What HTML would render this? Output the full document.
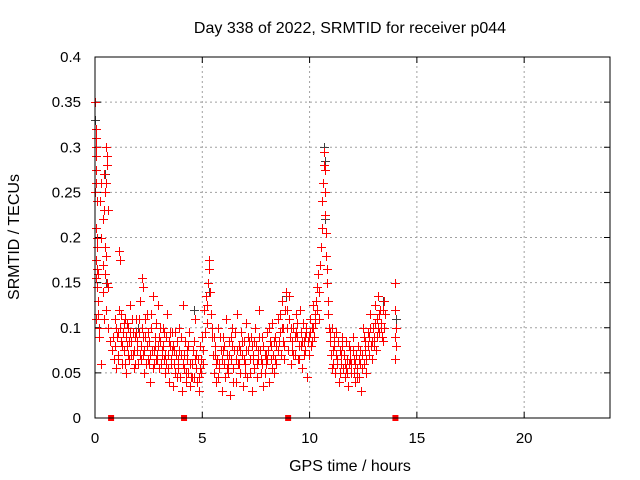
<!DOCTYPE html>
<html><head><meta charset="utf-8"><style>
html,body{margin:0;padding:0;background:#fff;}
svg{display:block;font-family:"Liberation Sans",sans-serif;}
</style></head><body>
<svg id="chart" width="640" height="480">
<rect x="0" y="0" width="640" height="480" fill="#fff"/>
<text x="350" y="33" font-size="16" text-anchor="middle">Day 338 of 2022, SRMTID for receiver p044</text>
<text x="350" y="471" font-size="16" text-anchor="middle">GPS time / hours</text>
<text x="19" y="237" font-size="16" text-anchor="middle" transform="rotate(-90 19 237)">SRMTID / TECUs</text>
<g id="grid"></g>
<g id="axes"></g>
<g id="gray"></g>
<g id="red"></g>
<g id="gaps"></g>
<rect x="95" y="57" width="515" height="361" fill="none" stroke="#000" stroke-width="1"/>
</svg>
<script>
const xTicks = [0,5,10,15,20];
const yTicks = [0,0.05,0.1,0.15,0.2,0.25,0.3,0.35,0.4];
const yTickLabels = ["0","0.05","0.1","0.15","0.2","0.25","0.3","0.35","0.4"];
const gapTimes = [0.75,4.15,9.0,14.0];
const grayPoints = [[0.02,0.33],[0.04,0.3],[0.45,0.27],[0.5,0.15],[2.0,0.1],[4.6,0.12],[5.3,0.14],[8.9,0.135],[10.68,0.3],[10.7,0.285],[10.72,0.22],[13.4,0.13],[14.02,0.11]];
const redPoints = [
[0.02,0.35],[0.03,0.32],[0.04,0.31],[0.05,0.30],[0.03,0.29],[0.06,0.275],[0.04,0.26],[0.02,0.25],[0.07,0.24],[0.05,0.21],[0.08,0.20],[0.1,0.19],[0.06,0.175],[0.09,0.165],[0.12,0.16],[0.05,0.155],[0.1,0.145],[0.14,0.13],[0.03,0.11],[0.16,0.115],[0.2,0.1],[0.18,0.09],
[0.25,0.24],[0.3,0.26],[0.35,0.22],[0.28,0.2],[0.4,0.23],[0.45,0.25],[0.5,0.26],[0.42,0.27],[0.55,0.29],[0.5,0.3],[0.55,0.28],[0.6,0.23],[0.48,0.19],[0.52,0.18],[0.38,0.17],[0.45,0.16],[0.55,0.15],[0.6,0.145],[0.35,0.14],[0.5,0.12],[0.4,0.11],[0.62,0.1],[0.7,0.085],[0.3,0.06],
[0.8,0.075],[0.85,0.09],[0.9,0.065],[0.95,0.08],[1.0,0.1],[1.05,0.07],[1.1,0.12],[1.12,0.185],[1.15,0.175],[1.2,0.085],[1.25,0.06],[1.3,0.095],[1.35,0.075],[1.4,0.11],[1.45,0.05],[1.5,0.08],[1.55,0.1],[1.6,0.065],[1.65,0.125],[1.7,0.085],[1.75,0.07],[1.8,0.055],[1.85,0.09],[1.9,0.11],[1.95,0.075],[2.0,0.06],[2.05,0.095],[2.1,0.13],[2.15,0.08],[2.2,0.155],[2.22,0.145],[2.25,0.07],[2.3,0.05],[2.35,0.09],[2.4,0.115],[2.45,0.065],[2.5,0.085],[2.55,0.04],[2.6,0.1],[2.65,0.075],[2.7,0.135],[2.75,0.06],[2.8,0.09],[2.85,0.105],[2.9,0.07],[2.95,0.125],[3.0,0.055],[3.05,0.085],[3.1,0.075],[3.15,0.1],[3.2,0.065],[3.25,0.05],[3.3,0.09],[3.35,0.115],[3.4,0.07],[3.45,0.04],[3.5,0.08],[3.55,0.06],[3.6,0.095],[3.65,0.035],[3.7,0.075],[3.75,0.05],[3.8,0.085],[3.85,0.065],[3.9,0.1],[3.95,0.045],
[4.0,0.07],[4.05,0.03],[4.1,0.125],[4.15,0.055],[4.2,0.085],[4.25,0.04],[4.3,0.065],[4.35,0.05],[4.4,0.095],[4.45,0.035],[4.5,0.06],[4.55,0.075],[4.6,0.045],[4.65,0.11],[4.7,0.055],[4.75,0.04],[4.8,0.065],[4.85,0.03],[4.9,0.08],[4.95,0.05],[5.0,0.09],[5.05,0.06],
[5.1,0.12],[5.15,0.135],[5.2,0.105],[5.25,0.15],[5.3,0.165],[5.32,0.175],[5.35,0.14],[5.4,0.115],[5.45,0.09],[5.5,0.07],
[5.55,0.05],[5.6,0.08],[5.65,0.04],[5.7,0.065],[5.75,0.1],[5.8,0.055],[5.85,0.075],[5.9,0.03],[5.95,0.09],[6.0,0.06],[6.05,0.045],[6.1,0.11],[6.15,0.07],[6.2,0.05],[6.25,0.085],[6.3,0.025],[6.35,0.065],[6.4,0.1],[6.45,0.055],[6.5,0.075],[6.55,0.04],[6.6,0.115],[6.65,0.06],[6.7,0.08],[6.75,0.05],[6.8,0.095],[6.85,0.07],[6.9,0.035],[6.95,0.085],[7.0,0.06],[7.05,0.105],[7.1,0.045],[7.15,0.075],[7.2,0.065],[7.25,0.09],[7.3,0.03],[7.35,0.07],[7.4,0.055],[7.45,0.1],[7.5,0.08],[7.55,0.045],[7.6,0.065],[7.65,0.12],[7.7,0.075],[7.75,0.05],[7.8,0.09],[7.85,0.035],[7.9,0.07],[7.95,0.06],[8.0,0.095],[8.05,0.075],[8.1,0.04],[8.15,0.085],[8.2,0.065],[8.25,0.105],[8.3,0.07],[8.35,0.05],[8.4,0.09],[8.45,0.08],
[8.55,0.11],[8.6,0.095],[8.65,0.07],[8.7,0.13],[8.75,0.085],[8.8,0.065],[8.85,0.12],[8.9,0.14],[8.95,0.1],[9.0,0.075],[9.05,0.135],[9.1,0.09],
[9.15,0.06],[9.2,0.085],[9.25,0.1],[9.3,0.07],[9.35,0.115],[9.4,0.09],[9.45,0.065],[9.5,0.08],[9.55,0.12],[9.6,0.095],[9.65,0.055],[9.7,0.105],[9.75,0.085],[9.8,0.075],[9.85,0.1],[9.9,0.045],[9.95,0.09],[10.0,0.11],[10.05,0.08],[10.1,0.1],[10.15,0.125],[10.2,0.09],[10.25,0.115],
[10.3,0.13],[10.35,0.145],[10.4,0.16],[10.45,0.14],[10.5,0.17],[10.55,0.19],[10.58,0.21],[10.6,0.24],[10.62,0.26],[10.65,0.28],[10.68,0.295],[10.7,0.275],[10.72,0.25],[10.74,0.225],[10.75,0.205],[10.78,0.18],[10.8,0.165],[10.82,0.15],[10.85,0.13],[10.88,0.115],[10.9,0.1],
[10.95,0.085],[11.0,0.07],[11.05,0.1],[11.1,0.06],[11.15,0.08],[11.2,0.05],[11.25,0.095],[11.3,0.065],[11.35,0.04],[11.4,0.075],[11.45,0.06],[11.5,0.09],[11.55,0.055],[11.6,0.07],[11.65,0.045],[11.7,0.085],[11.75,0.065],[11.8,0.035],[11.85,0.06],[11.9,0.075],[11.95,0.05],[12.0,0.09],[12.05,0.065],[12.1,0.04],[12.15,0.07],[12.2,0.055],[12.25,0.08],[12.3,0.045],[12.35,0.06],[12.4,0.03],[12.45,0.07],
[12.5,0.1],[12.55,0.06],[12.6,0.085],[12.65,0.05],[12.7,0.095],[12.75,0.07],[12.8,0.115],[12.85,0.08],[12.9,0.065],[12.95,0.1],[13.0,0.09],[13.05,0.125],[13.1,0.075],[13.15,0.11],[13.2,0.135],[13.25,0.095],[13.3,0.12],[13.35,0.105],[13.4,0.085],[13.45,0.13],[13.5,0.115],
[14.0,0.15],[14.0,0.12],[14.02,0.1],[14.0,0.09],[14.05,0.08],[14.0,0.065],
[1.02,0.09],[1.08,0.065],[1.18,0.1],[1.28,0.08],[1.38,0.06],[1.48,0.105],[1.58,0.085],[1.68,0.07],[1.78,0.095],[1.88,0.06],[1.98,0.085],[2.08,0.07],[2.18,0.1],[2.28,0.075],[2.38,0.06],[2.48,0.095],[2.58,0.07],[2.68,0.055],[2.78,0.08],[2.88,0.065],[2.98,0.09],[3.08,0.06],[3.18,0.08],[3.28,0.07],[3.38,0.055],[3.48,0.095],[3.58,0.075],[3.68,0.06],[3.78,0.07],[3.88,0.055],[4.08,0.06],[4.28,0.075],[4.48,0.045],[4.68,0.065],[4.88,0.055],[5.58,0.07],[5.78,0.06],[5.98,0.075],[6.18,0.06],[6.38,0.08],[6.58,0.065],[6.78,0.075],[6.98,0.05],[7.18,0.085],[7.38,0.065],[7.58,0.075],[7.78,0.06],[7.98,0.07],[8.18,0.08],[8.38,0.065],[8.58,0.085],[8.78,0.1],[9.18,0.075],[9.38,0.095],[9.58,0.08],[9.78,0.09],[9.98,0.07],[10.18,0.1],[11.08,0.075],[11.28,0.06],[11.48,0.07],[11.68,0.055],[11.88,0.065],[12.08,0.05],[12.28,0.065],[12.58,0.075],[12.78,0.09],[12.98,0.08],[13.18,0.1],[13.38,0.09],
[0.92,0.11],[0.97,0.055],[1.07,0.095],[1.22,0.115],[1.33,0.105],[1.43,0.09],[1.53,0.07],[1.63,0.095],[1.73,0.11],[1.83,0.075],[1.93,0.095],[2.03,0.11],[2.13,0.065],[2.23,0.09],[2.33,0.11],[2.43,0.08],[2.53,0.06],[2.63,0.115],[2.73,0.075],[2.83,0.065],[2.93,0.08],[3.03,0.1],[3.13,0.07],[3.23,0.095],[3.33,0.06],[3.43,0.085],[3.53,0.065],[3.63,0.08],[3.73,0.095],[3.83,0.045],[3.93,0.075],[4.03,0.09],[4.13,0.07],[4.23,0.05],[4.33,0.08],[4.43,0.06],[4.53,0.045],[4.63,0.085],[4.73,0.07],[4.83,0.045],[4.93,0.065],[5.03,0.075],[5.13,0.095],[5.23,0.125],[5.43,0.1],[5.53,0.09],[5.63,0.06],[5.73,0.045],[5.83,0.09],[5.93,0.065],[6.03,0.08],[6.13,0.055],[6.23,0.07],[6.33,0.09],[6.43,0.04],[6.53,0.095],[6.63,0.075],[6.73,0.06],[6.83,0.085],[6.93,0.065],[7.03,0.075],[7.13,0.09],[7.23,0.05],[7.33,0.08],[7.43,0.085],[7.53,0.06],[7.63,0.09],[7.73,0.065],[7.83,0.08],[7.93,0.05],[8.03,0.065],[8.13,0.1],[8.23,0.055],[8.33,0.085],[8.43,0.06],[8.53,0.075],[8.63,0.115],[8.73,0.1],[8.83,0.08],[8.93,0.12],[9.03,0.11],[9.13,0.1],[9.23,0.07],[9.33,0.09],[9.43,0.105],[9.53,0.065],[9.63,0.085],[9.73,0.07],[9.83,0.095],[9.93,0.085],[10.03,0.095],[10.13,0.085],[10.23,0.105],[10.33,0.12],[10.43,0.11],[10.93,0.095],[11.03,0.055],[11.13,0.09],[11.23,0.07],[11.33,0.085],[11.43,0.05],[11.53,0.08],[11.63,0.06],[11.73,0.05],[11.83,0.08],[11.93,0.06],[12.03,0.075],[12.13,0.06],[12.23,0.045],[12.33,0.075],[12.43,0.055],[12.53,0.09],[12.63,0.065],[12.73,0.08],[12.83,0.1],[12.93,0.085],[13.03,0.105],[13.13,0.09],[13.23,0.115],[13.33,0.1],[13.43,0.12],[13.48,0.1]
];
const NS="http://www.w3.org/2000/svg";
const X0=95,X1=610,Y0=418,Y1=57,XMAX=24,YMAX=0.4;
function xs(v){return X0+(v/XMAX)*(X1-X0);}
function ys(v){return Y0-(v/YMAX)*(Y0-Y1);}
function mk(tag,attrs,parent){const e=document.createElementNS(NS,tag);for(const k in attrs)e.setAttribute(k,attrs[k]);parent.appendChild(e);return e;}
const grid=document.getElementById('grid'),axes=document.getElementById('axes');
xTicks.forEach((t,i)=>{
  const x=xs(t);
  if(t>0){const g=mk('line',{x1:x,y1:Y0,x2:x,y2:Y1,stroke:'#a0a0a0','stroke-dasharray':'2,3'},grid);
  
  }
  mk('line',{x1:x,y1:Y0,x2:x,y2:Y0-6,stroke:'#000'},axes);
  mk('line',{x1:x,y1:Y1,x2:x,y2:Y1+6,stroke:'#000'},axes);
  const tx=mk('text',{x:x,y:443,'font-size':15,'text-anchor':'middle'},axes);
  tx.textContent=String(t);
  
  
});
yTicks.forEach((t,i)=>{
  const y=ys(t);
  if(t>0&&t<YMAX){const g=mk('line',{x1:X0,y1:y,x2:X1,y2:y,stroke:'#a0a0a0','stroke-dasharray':'2,3'},grid);
  
  }
  mk('line',{x1:X0,y1:y,x2:X0+6,y2:y,stroke:'#000'},axes);
  mk('line',{x1:X1,y1:y,x2:X1-6,y2:y,stroke:'#000'},axes);
  const tx=mk('text',{x:81,y:y+5,'font-size':15,'text-anchor':'end'},axes);
  tx.textContent=yTickLabels[i];
  
  
});
function plus(p,color,parent,name){
  const x=Math.round(xs(p[0]))+0.5,y=Math.round(ys(p[1]))+0.5;
  const e=mk('path',{d:`M${x-4.5},${y}H${x+4.5}M${x},${y-4.5}V${y+4.5}`,stroke:color,'stroke-width':1,fill:'none'},parent);
  
  
}
const gray=document.getElementById('gray'),red=document.getElementById('red');
grayPoints.forEach(p=>plus(p,'#404040',gray,'gray-point'));
redPoints.forEach(p=>plus(p,'#ff0000',red,'red-point'));
const gaps=document.getElementById('gaps');
gapTimes.forEach(t=>{
  const r=mk('rect',{x:xs(t)-3,y:Y0-3,width:6,height:6,fill:'#ff0000'},gaps);
  
  
});
</script>
</body></html>
